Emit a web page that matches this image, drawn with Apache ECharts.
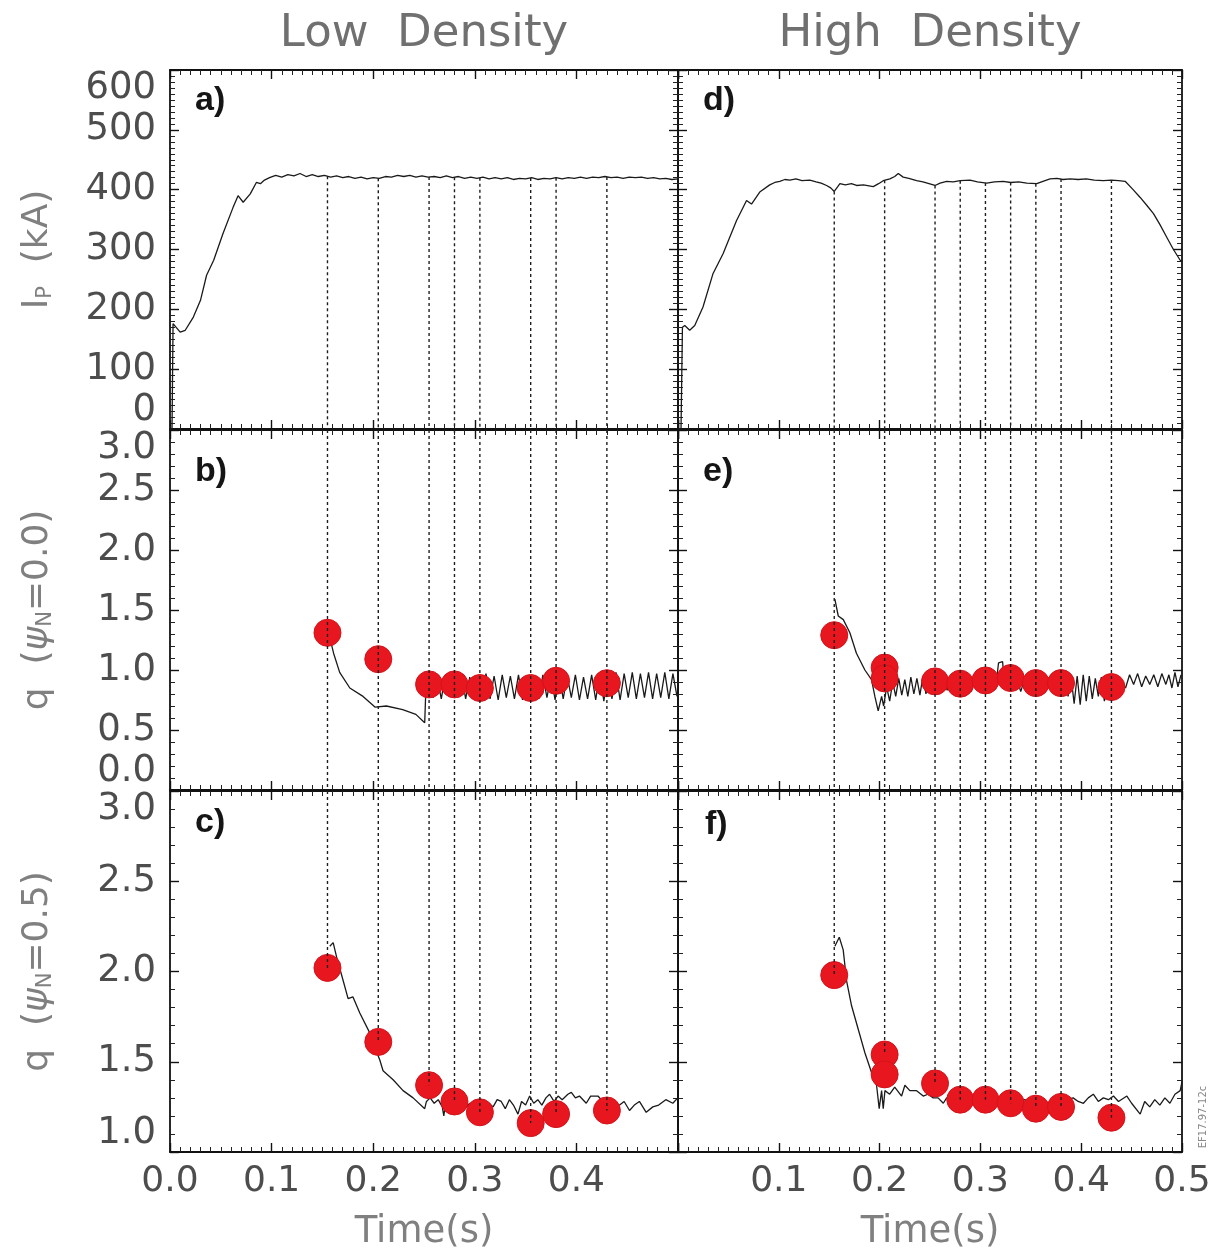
<!DOCTYPE html>
<html><head><meta charset="utf-8">
<script src="https://cdn.jsdelivr.net/npm/echarts@6/dist/echarts.min.js"></script>
<style>html,body{margin:0;padding:0;background:#fff}#c{width:1227px;height:1254px}</style>
</head><body><div id="c"></div>
<script>
// ---------- DATA ----------
const columnTitles = ['Low  Density', 'High  Density'];
const panelLetters = ['a)', 'b)', 'c)', 'd)', 'e)', 'f)'];
const xTicks = [0.0, 0.1, 0.2, 0.3, 0.4, 0.5];

// time slices (vertical dashed lines)
const lowSliceT = [0.155, 0.205, 0.255, 0.28, 0.305, 0.355, 0.38, 0.43];
const highSliceT = [0.155, 0.205, 0.255, 0.28, 0.305, 0.33, 0.355, 0.38, 0.43];

// red points
const lowDotT = [0.155, 0.205, 0.255, 0.28, 0.305, 0.355, 0.38, 0.43];
const lowQ0Dots = [1.31, 1.09, 0.88, 0.88, 0.85, 0.85, 0.91, 0.89];
const lowQ05Dots = [2.02, 1.61, 1.37, 1.28, 1.22, 1.16, 1.21, 1.23];
const highDotT = [0.155, 0.205, 0.205, 0.255, 0.28, 0.305, 0.33, 0.355, 0.38, 0.43];
const highQ0Dots = [1.29, 1.02, 0.93, 0.905, 0.886, 0.913, 0.933, 0.891, 0.891, 0.858];
const highQ05Dots = [1.98, 1.54, 1.43, 1.38, 1.29, 1.29, 1.27, 1.24, 1.25, 1.19];

// Ip traces [t, kA]
const ipLow = [[0,0],[0.002,0],[0.003,176],[0.010,162],[0.015,165],[0.023,187],[0.030,215],[0.036,257],[0.043,282],[0.052,326],[0.062,370],[0.067,390],[0.072,379],[0.079,393],[0.085,412],[0.089,410],[0.093,416],
[0.098,420],[0.104,424],[0.110,421],[0.116,425],[0.122,423],[0.128,427],[0.134,422],[0.140,425],[0.146,422],[0.152,424],[0.158,421],[0.164,423],[0.170,420],[0.176,422],[0.182,419],[0.188,421],[0.194,418],[0.200,420],[0.206,419],[0.212,422],[0.218,421],[0.224,424],[0.230,422],[0.236,424],[0.242,421],[0.248,423],[0.254,421],[0.260,422],[0.266,420],[0.272,423],[0.278,420],[0.284,422],[0.290,419],[0.296,421],[0.302,419],[0.308,421],[0.314,418],[0.320,420],[0.326,418],[0.332,420],[0.338,417],[0.344,419],[0.350,418],[0.356,420],[0.362,417],[0.368,419],[0.374,418],[0.380,420],[0.386,418],[0.392,420],[0.398,419],[0.404,421],[0.410,419],[0.416,421],[0.422,420],[0.428,422],[0.434,420],[0.440,421],[0.446,419],[0.452,421],[0.458,420],[0.464,421],[0.470,419],[0.476,420],[0.482,418],[0.488,419],[0.494,417],[0.500,418]];

const ipHigh = [[0,0],[0.003,0],[0.0044,170],[0.0067,173],[0.0116,165],[0.0166,173],[0.0248,204],[0.0348,260],[0.0447,293],[0.058,348],[0.068,382],[0.0729,376],[0.0811,396],[0.091,408],[0.096,412],[0.101,414],[0.106,417],[0.111,416],[0.117,418],[0.123,415],[0.1308,416],[0.137,413],[0.142,411],[0.1474,407],[0.1515,403],[0.155,397],[0.1585,405],[0.1606,410],[0.166,408],[0.172,410],[0.1772,407],[0.184,408],[0.1937,405],[0.199,410],[0.2036,415],[0.2102,418],[0.215,422],[0.2185,427],[0.2234,421],[0.229,419],[0.2367,415],[0.243,413],[0.249,410],[0.255,407],[0.260,411],[0.2665,414],[0.273,413],[0.280,415],[0.2897,416],[0.297,413],[0.3063,411],[0.314,413],[0.3227,414],[0.330,412],[0.338,413],[0.346,411],[0.3559,410],[0.362,414],[0.3691,418],[0.376,419],[0.382,417],[0.389,418],[0.397,417],[0.405,418],[0.413,416],[0.422,415],[0.430,416],[0.437,415],[0.4436,414],[0.4515,400],[0.4585,387],[0.465,374],[0.4717,360],[0.478,342],[0.485,320],[0.4915,300],[0.4982,282],[0.500,280]];

// q(psi_N=0.0) traces
const q0Low = [[0.157,1.28],[0.161,1.14],[0.167,0.98],[0.177,0.85],[0.190,0.78],[0.202,0.69],[0.213,0.70],[0.229,0.67],[0.242,0.63],[0.2507,0.56],[0.2515,0.76],
[0.255,0.95],[0.259,0.77],[0.263,0.94],[0.267,0.76],[0.271,0.95],[0.275,0.78],[0.279,0.93],[0.283,0.77],[0.287,0.96],[0.291,0.76],[0.295,0.94],[0.299,0.78],[0.303,0.95],[0.307,0.77],[0.311,0.97],[0.315,0.76],[0.319,0.95],[0.323,0.75],[0.327,0.96],[0.331,0.77],[0.335,0.95],[0.339,0.76],[0.343,0.96],[0.347,0.75],[0.351,0.95],[0.355,0.77],[0.359,0.94],[0.363,0.76],[0.367,0.96],[0.371,0.77],[0.375,0.95],[0.379,0.75],[0.383,0.97],[0.387,0.76],[0.391,0.95],[0.395,0.77],[0.399,0.96],[0.403,0.75],[0.407,0.94],[0.411,0.76],[0.415,0.96],[0.419,0.75],[0.423,0.97],[0.427,0.74],[0.431,0.96],[0.435,0.76],[0.439,0.98],[0.443,0.75],[0.447,0.97],[0.451,0.77],[0.455,0.98],[0.459,0.76],[0.463,0.97],[0.467,0.77],[0.471,0.98],[0.475,0.76],[0.479,0.97],[0.483,0.77],[0.487,0.98],[0.491,0.76],[0.495,0.97],[0.499,0.78]];

const q0High = [[0.1556,1.59],[0.159,1.45],[0.164,1.42],[0.1705,1.31],[0.177,1.14],[0.1854,1.00],[0.192,0.92],[0.1953,0.78],[0.1986,0.66],[0.202,0.78],[0.204,0.70],[0.207,0.86],[0.210,0.74],[0.213,0.90],[0.216,0.78],[0.219,0.93],[0.222,0.79],[0.225,0.92],[0.228,0.78],[0.231,0.94],[0.234,0.80],[0.237,0.93],[0.240,0.79],[0.243,0.95],[0.246,0.80],[0.249,0.93],[0.252,0.81],[0.255,0.94],[0.259,0.82],[0.263,0.95],[0.267,0.83],[0.271,0.94],[0.275,0.82],[0.279,0.95],[0.283,0.83],[0.287,0.93],[0.291,0.82],[0.295,0.94],[0.299,0.83],[0.303,0.95],[0.307,0.82],[0.311,0.94],[0.315,0.84],[0.318,1.06],[0.322,1.07],[0.324,0.88],[0.328,0.95],[0.332,0.83],[0.336,0.94],[0.340,0.82],[0.344,0.93],[0.348,0.81],[0.352,0.94],[0.356,0.82],[0.360,0.93],[0.364,0.81],[0.368,0.94],[0.372,0.82],[0.376,0.93],[0.380,0.81],[0.384,0.92],[0.387,0.78],[0.390,0.94],[0.393,0.72],[0.396,0.95],[0.399,0.71],[0.402,0.96],[0.405,0.74],[0.408,0.95],[0.411,0.76],[0.414,0.93],[0.417,0.78],[0.420,0.94],[0.423,0.74],[0.426,0.90],[0.429,0.80],[0.432,0.88],[0.436,0.80],[0.440,0.90],[0.444,0.85],[0.448,0.96],[0.452,0.88],[0.456,0.97],[0.460,0.86],[0.464,0.95],[0.468,0.88],[0.472,0.96],[0.476,0.86],[0.480,0.97],[0.484,0.88],[0.487,0.96],[0.490,0.85],[0.493,0.98],[0.496,0.86],[0.499,0.96]];

// q(psi_N=0.5) traces
const q05Low = [[0.1573,2.14],[0.1606,2.16],[0.164,2.08],[0.1704,1.95],[0.1753,1.85],[0.180,1.86],[0.1868,1.77],[0.1966,1.66],[0.2016,1.58],[0.2065,1.51],[0.2097,1.45],[0.2196,1.40],[0.2294,1.34],[0.2393,1.30],[0.2507,1.24],[0.2524,1.28],[0.256,1.30],[0.260,1.27],[0.264,1.29],[0.268,1.25],[0.2695,1.20],[0.2705,1.24],[0.275,1.27],[0.280,1.25],[0.285,1.28],[0.290,1.24],[0.295,1.27],[0.300,1.23],[0.305,1.26],[0.310,1.24],[0.314,1.27],[0.318,1.25],[0.322,1.29],[0.326,1.28],[0.330,1.24],[0.334,1.29],[0.338,1.26],[0.3425,1.21],[0.346,1.28],[0.350,1.26],[0.354,1.31],[0.358,1.27],[0.362,1.29],[0.366,1.26],[0.370,1.30],[0.3736,1.32],[0.378,1.28],[0.382,1.31],[0.386,1.29],[0.3916,1.32],[0.395,1.33],[0.399,1.30],[0.403,1.31],[0.4097,1.27],[0.414,1.31],[0.4212,1.31],[0.426,1.28],[0.430,1.28],[0.435,1.27],[0.4425,1.26],[0.447,1.28],[0.4523,1.23],[0.457,1.26],[0.462,1.28],[0.4687,1.22],[0.4752,1.25],[0.481,1.26],[0.488,1.29],[0.4949,1.27],[0.4998,1.30]];

const q05High = [[0.1556,2.14],[0.160,2.19],[0.1639,2.12],[0.1672,1.95],[0.1722,1.81],[0.1788,1.68],[0.1854,1.55],[0.192,1.44],[0.197,1.37],[0.1996,1.24],[0.202,1.34],[0.2036,1.24],[0.2053,1.34],[0.210,1.32],[0.215,1.36],[0.2218,1.31],[0.2251,1.37],[0.230,1.34],[0.2367,1.34],[0.2433,1.31],[0.248,1.32],[0.2532,1.30],[0.258,1.30],[0.2632,1.27],[0.2665,1.30],[0.272,1.28],[0.278,1.30],[0.284,1.28],[0.290,1.29],[0.296,1.27],[0.302,1.29],[0.308,1.27],[0.314,1.28],[0.320,1.29],[0.326,1.27],[0.332,1.28],[0.338,1.27],[0.344,1.29],[0.350,1.27],[0.356,1.28],[0.362,1.29],[0.368,1.27],[0.374,1.28],[0.380,1.27],[0.386,1.29],[0.392,1.30],[0.397,1.28],[0.4022,1.27],[0.407,1.30],[0.412,1.32],[0.417,1.28],[0.422,1.30],[0.427,1.29],[0.432,1.31],[0.437,1.28],[0.4453,1.31],[0.450,1.27],[0.4585,1.21],[0.463,1.28],[0.468,1.25],[0.473,1.29],[0.478,1.26],[0.483,1.30],[0.488,1.27],[0.493,1.32],[0.4982,1.34],[0.500,1.39]];

// ---------- LAYOUT / STYLE ----------
const colLeft = [170, 678], colWidth = [508, 504];
const rowTop = [70, 430, 791], rowHeight = [359, 360, 361];
const yAxisDefs = [
  {min: 0, max: 600, interval: 100, minor: 10, fmt: v => String(Math.round(v))},
  {min: 0, max: 3, interval: 0.5, minor: 5, fmt: v => v.toFixed(1)},
  {min: 1, max: 3, interval: 0.5, minor: 5, fmt: v => v.toFixed(1)}
];
const yNames = ['{m|I}{s|P}{m|  (kA)}', '{m|q  (}{i|ψ}{s|N}{m|=0.0)}', '{m|q  (}{i|ψ}{s|N}{m|=0.5)}'];
const FONT = 'DejaVu Sans';
const LABEL_COLOR = '#4d4d4d';
const NAME_COLOR = '#808080';
const RED = '#e8171f';

function zip(ts, vs) { return ts.map((t, i) => [t, vs[i]]); }
function interp(tr, t) {
  for (let i = 1; i < tr.length; i++) {
    if (tr[i][0] >= t) {
      const a = tr[i - 1], b = tr[i];
      return a[1] + (b[1] - a[1]) * (t - a[0]) / (b[0] - a[0]);
    }
  }
  return tr[tr.length - 1][1];
}

const panels = [
  {col: 0, row: 0, trace: ipLow, dots: null, slices: lowSliceT},
  {col: 0, row: 1, trace: q0Low, dots: zip(lowDotT, lowQ0Dots), slices: lowSliceT},
  {col: 0, row: 2, trace: q05Low, dots: zip(lowDotT, lowQ05Dots), slices: lowSliceT},
  {col: 1, row: 0, trace: ipHigh, dots: null, slices: highSliceT},
  {col: 1, row: 1, trace: q0High, dots: zip(highDotT, highQ0Dots), slices: highSliceT},
  {col: 1, row: 2, trace: q05High, dots: zip(highDotT, highQ05Dots), slices: highSliceT}
];

const grid = [], xAxis = [], yAxis = [], series = [];
const lineC = '#111';

panels.forEach((p, g) => {
  grid.push({left: colLeft[p.col], top: rowTop[p.row], width: colWidth[p.col], height: rowHeight[p.row], containLabel: false});
  const yd = yAxisDefs[p.row];
  const tickCommon = {show: true, inside: true, length: 9, lineStyle: {color: lineC, width: 1.4}};
  const xBase = {
    type: 'value', gridIndex: g, min: 0, max: 0.5, interval: 0.1,
    axisLine: {show: true, onZero: false, lineStyle: {color: lineC, width: 1.8}},
    axisTick: tickCommon,
    minorTick: {show: true, splitNumber: 10, length: 5, lineStyle: {color: '#222', width: 1}},
    splitLine: {show: false}, minorSplitLine: {show: false}
  };
  const isBottom = p.row === 2;
  xAxis.push(Object.assign({}, xBase, {
    position: 'bottom',
    axisLabel: {show: isBottom, fontFamily: FONT, fontSize: 36, color: LABEL_COLOR, margin: 12,
      formatter: v => v.toFixed(1), showMaxLabel: p.col === 1, showMinLabel: p.col === 0},
    name: isBottom ? 'Time(s)' : '', nameLocation: 'middle', nameGap: 62,
    nameTextStyle: {fontFamily: FONT, fontSize: 37, color: NAME_COLOR}
  }));
  xAxis.push(Object.assign({}, xBase, {position: 'top', axisLabel: {show: false}}));
  const yBase = {
    type: 'value', gridIndex: g, min: yd.min, max: yd.max, interval: yd.interval,
    axisLine: {show: true, onZero: false, lineStyle: {color: lineC, width: 1.8}},
    axisTick: tickCommon,
    minorTick: {show: true, splitNumber: yd.minor, length: 5, lineStyle: {color: '#222', width: 1}},
    splitLine: {show: false}, minorSplitLine: {show: false}
  };
  const isLeft = p.col === 0;
  yAxis.push(Object.assign({}, yBase, {
    position: 'left',
    axisLabel: {show: isLeft, fontFamily: FONT, fontSize: 37, color: LABEL_COLOR, margin: 14,
      formatter: yd.fmt, verticalAlignMinLabel: 'bottom', verticalAlignMaxLabel: 'top'},
    name: isLeft ? yNames[p.row] : '', nameLocation: 'middle', nameGap: 114, nameRotate: 90,
    nameTextStyle: {
      fontFamily: FONT, fontSize: 36, color: NAME_COLOR,
      rich: {
        m: {fontFamily: FONT, fontSize: 36, color: NAME_COLOR},
        i: {fontFamily: FONT, fontSize: 36, fontStyle: 'italic', color: NAME_COLOR},
        s: {fontFamily: FONT, fontSize: 21, color: NAME_COLOR, verticalAlign: 'bottom', padding: [14, 0, 0, 0]}
      }
    }
  }));
  yAxis.push(Object.assign({}, yBase, {position: 'right', axisLabel: {show: false}}));

  const xi = 2 * g, yi = 2 * g;
  // trace
  series.push({type: 'line', xAxisIndex: xi, yAxisIndex: yi, data: p.trace, showSymbol: false, symbol: 'none',
    lineStyle: {color: '#1a1a1a', width: 1.3}, z: 2, silent: true});
  // red dots
  if (p.dots) {
    series.push({type: 'scatter', xAxisIndex: xi, yAxisIndex: yi, data: p.dots, symbol: 'circle', symbolSize: 27,
      itemStyle: {color: RED, opacity: 1, borderColor: '#d3121a', borderWidth: 1}, z: 3, silent: true});
  }
  // dashed time-slice lines
  const seg = [];
  p.slices.forEach(t => {
    let y0, y1;
    if (p.row === 0) { y0 = interp(p.trace, t); y1 = yd.min; }
    else if (p.row === 1) { y0 = yd.max; y1 = yd.min; }
    else {
      y0 = yd.max;
      y1 = Math.max.apply(null, p.dots.filter(d => Math.abs(d[0] - t) < 1e-9).map(d => d[1]));
    }
    seg.push([t, y0], [t, y1], [t, '-']);
  });
  series.push({type: 'line', xAxisIndex: xi, yAxisIndex: yi, data: seg, showSymbol: false, symbol: 'none',
    connectNulls: false, lineStyle: {color: '#1e1e1e', width: 1.4, type: [3, 3]}, z: 4, silent: true});
});

const graphic = [];
columnTitles.forEach((txt, c) => {
  graphic.push({type: 'text', x: colLeft[c] + colWidth[c] / 2, y: 34,
    style: {text: txt, fontFamily: FONT, fontSize: 45, fill: '#707070', align: 'center', verticalAlign: 'middle'}});
});
const letterPos = [[195, 84], [195, 455], [195, 806], [703, 84], [703, 455], [705, 808]];
panelLetters.forEach((txt, i) => {
  graphic.push({type: 'text', x: letterPos[i][0], y: letterPos[i][1],
    style: {text: txt, fontFamily: 'Liberation Sans', fontWeight: 'bold', fontSize: 34, fill: '#151515', align: 'left', verticalAlign: 'top'}});
});
graphic.push({type: 'text', x: 1203, y: 1117, rotation: Math.PI / 2,
  style: {text: 'EF17.97-12c', fontFamily: FONT, fontSize: 10, fill: '#888', align: 'center', verticalAlign: 'middle'}});

const chart = echarts.init(document.getElementById('c'), null, {renderer: 'canvas'});
chart.setOption({
  animation: false,
  backgroundColor: '#fff',
  textStyle: {fontFamily: FONT},
  grid, xAxis, yAxis, series, graphic
});
</script></body></html>
